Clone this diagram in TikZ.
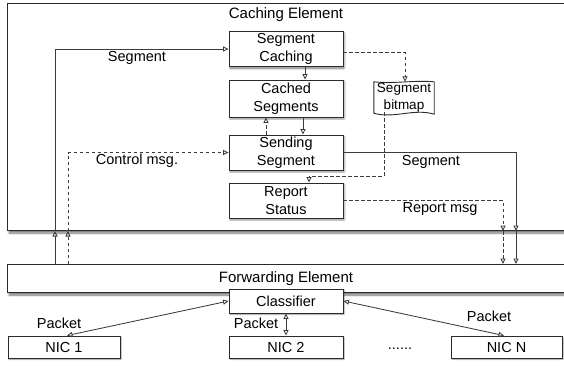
\documentclass[tikz,border=0pt]{standalone}
\usepackage{fontspec}
\setmainfont{Liberation Sans}
\usetikzlibrary{arrows.meta,shadows.blur}

\definecolor{edge}{HTML}{2A2A2A}
\definecolor{wire}{HTML}{3C3C3C}

\tikzset{
  x=1pt, y=-1pt,
  every node/.style={font=\fontsize{14.5}{18}\selectfont, text=black},
  element/.style={draw=edge, line width=1pt, fill=white, anchor=north west,
    inner sep=0pt,
    blur shadow={shadow xshift=1.5pt, shadow yshift=-2.5pt, shadow blur steps=6,
      shadow blur radius=2pt, shadow opacity=55}},
  block/.style={draw=edge, line width=0.9pt, fill=white, align=center,
    inner sep=0pt, minimum width=114pt,
    blur shadow={shadow xshift=1pt, shadow yshift=-1.5pt, shadow blur steps=4,
      shadow blur radius=1pt, shadow opacity=45}},
  tag/.style={inner sep=0pt},
  flow/.style={draw=wire, line width=0.85pt,
    -{Triangle[open,length=5.5pt,width=5pt]}},
  ctrl/.style={flow, dash pattern=on 3.5pt off 2.5pt},
  both/.style={flow, {Triangle[open,length=5.5pt,width=5pt]}-{Triangle[open,length=5.5pt,width=5pt]}},
}

\begin{document}
\begin{tikzpicture}
\useasboundingbox (0,0) rectangle (564,365);

% the two large elements (they run past the right edge)
\node[element, minimum width=580pt, minimum height=227pt] (cache) at (7,3) {};
\node[tag] (cachetitle) at (286,15) {\fontsize{15}{18}\selectfont Caching Element};

\node[element, minimum width=580pt, minimum height=28pt] (fwd) at (7,264) {};
\node[tag] (fwdtitle) at (286,279) {\fontsize{15}{18}\selectfont Forwarding Element};

% inner blocks of the caching element
\node[block, minimum height=35pt] (sc) at (286,49) {Segment\\Caching};
\node[block, minimum height=37pt] (cs) at (286,98.5) {Cached\\Segments};
\node[block, minimum height=35pt] (ss) at (286,152.5) {Sending\\Segment};
\node[block, minimum height=35pt] (rs) at (286,200.5) {Report\\Status};

% segment bitmap: a sheet with slightly wavy top and bottom edges
\node[tag, minimum width=60pt, minimum height=32pt] (bm) at (404,98) {};
\begin{scope}[blur shadow={shadow xshift=1pt, shadow yshift=-1.5pt, shadow blur steps=4,
      shadow blur radius=1pt, shadow opacity=40}]
\filldraw[draw=edge, line width=0.9pt, fill=white]
  (bm.north west) .. controls (394,84) and (414,80) .. (bm.north east)
  -- (bm.south east) .. controls (414,108) and (394,119) .. ([yshift=1pt]bm.south west) -- cycle;
\end{scope}
\node[tag, align=center, font=\fontsize{13.5}{16.5}\selectfont] at (404,97.5) {Segment\\bitmap};

% classifier and NICs
\node[block, minimum height=24pt] (cl) at (286,301) {Classifier};
\node[block, minimum width=112pt, minimum height=22pt] (nic1) at (64,347) {NIC 1};
\node[block, minimum height=22pt] (nic2) at (286,347) {NIC 2};
\node[block, minimum width=111pt, minimum height=22pt] (nicn) at (506.5,347) {NIC N};
\node[tag] (dots) at (400,349) {......};

% vertical tracks
\coordinate (xa) at (55,0);
\coordinate (xb) at (68,0);
\coordinate (xc) at (516,0);
\coordinate (xd) at (503,0);
\coordinate (xe) at (384,0);
\coordinate (xf) at (309,0);
\coordinate (yf) at (0,176);

% forwarding -> caching
\draw[flow] (xa |- fwd.north) -- (xa |- cache.south);
\draw[flow] (xa |- cache.south) |- (sc.west);
\draw[ctrl] (xb |- fwd.north) -- (xb |- cache.south);
\draw[ctrl] (xb |- cache.south) |- (ss.west);
\node[tag] (lseg) at (137,58) {Segment};
\node[tag] (lctrl) at (137,161) {Control msg.};

% inside the caching element
\draw[flow] ([xshift=19pt]sc.south) -- ([xshift=19pt]sc.south |- cs.north);
\draw[flow] ([xshift=17pt]cs.south) -- ([xshift=17pt]cs.south |- ss.north);
\draw[ctrl] ([xshift=-20pt]ss.north) -- ([xshift=-20pt]ss.north |- cs.south);
\draw[ctrl] ([yshift=-3.5pt]sc.east) -| ([xshift=1pt]bm.north);
\draw[ctrl] ([yshift=2pt]xe |- bm.south) |- (xf |- yf) -- (xf |- rs.north);

% caching -> forwarding
\draw[flow] (ss.east) -| (xc |- cache.south);
\draw[flow] (xc |- cache.south) -- (xc |- fwd.north);
\draw[ctrl] (rs.east) -| (xd |- cache.south);
\draw[ctrl] (xd |- cache.south) -- (xd |- fwd.north);
\node[tag] (rseg) at (431,162) {Segment};
\node[tag] (rmsg) at (440,209) {Report msg};

% classifier <-> NICs
\draw[both] (cl.west) -- ([xshift=3pt]nic1.north);
\draw[both] (cl.south) -- (nic2.north);
\draw[both] (cl.east) -- ([xshift=-2.5pt]nicn.north);
\node[tag] (p1) at (59,323) {Packet};
\node[tag] (p2) at (256,323) {Packet};
\node[tag] (pn) at (489,316) {Packet};
\end{tikzpicture}
\end{document}
